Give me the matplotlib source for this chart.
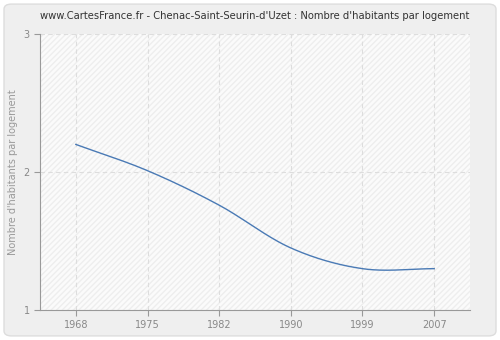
import numpy as np
import matplotlib
matplotlib.use("Agg")
import matplotlib.pyplot as plt
from matplotlib.patches import FancyBboxPatch

years = ["1968", "1975", "1982", "1990", "1999", "2007"]
values = [2.20, 2.01, 1.76, 1.45, 1.30, 1.30]

title = "www.CartesFrance.fr - Chenac-Saint-Seurin-d'Uzet : Nombre d'habitants par logement"
ylabel = "Nombre d'habitants par logement"


def smooth(x, y, n=30):
    # cubic hermite through the points, tangents from neighbours
    x = np.asarray(x, float)
    y = np.asarray(y, float)
    m = np.gradient(y, x)
    xs, ys = [], []
    for i in range(len(x) - 1):
        h = x[i + 1] - x[i]
        t = np.linspace(0, 1, n)
        h00 = 2 * t**3 - 3 * t**2 + 1
        h10 = t**3 - 2 * t**2 + t
        h01 = -2 * t**3 + 3 * t**2
        h11 = t**3 - t**2
        xs.append(x[i] + t * h)
        ys.append(h00 * y[i] + h10 * h * m[i] + h01 * y[i + 1] + h11 * h * m[i + 1])
    return np.concatenate(xs), np.concatenate(ys)


fig = plt.figure(figsize=(5, 3.4), dpi=100)
fig.patch.set_facecolor("white")
fig.patches.append(FancyBboxPatch((0.008, 0.012), 0.984, 0.976,
                                  boxstyle="round,pad=0,rounding_size=0.015",
                                  transform=fig.transFigure, facecolor="#efefef",
                                  edgecolor="#dddddd", linewidth=1, zorder=-10))

ax = fig.add_axes([0.08, 0.088, 0.86, 0.812])
ax.set_facecolor("#fbfbfb")
ax.patch.set_hatch("//////")
ax.patch.set_edgecolor("#eeeeee")
ax.patch.set_linewidth(0)

pos = np.arange(len(years))
sx, sy = smooth(pos, values)
ax.plot(sx, sy, color="#4a7ab5", linewidth=1.0, zorder=3)

ax.set_xlim(-0.5, 5.5)
ax.set_ylim(1, 3)
ax.set_xticks(pos)
ax.set_xticklabels(years)
ax.set_yticks([1, 2, 3])

ax.grid(True, color="#dddddd", linestyle=(0, (4, 3)), linewidth=0.8)
ax.set_axisbelow(True)

for s in ["top", "right"]:
    ax.spines[s].set_visible(False)
for s in ["left", "bottom"]:
    ax.spines[s].set_color("#999999")
ax.tick_params(colors="#999999", labelcolor="#888888", labelsize=7, length=4, width=0.8)

ax.set_ylabel(ylabel, color="#999999", fontsize=7)
ax.set_title(title, fontsize=7.2, color="#333333", pad=11)

fig.savefig("out.png", dpi=100, facecolor=fig.get_facecolor())
